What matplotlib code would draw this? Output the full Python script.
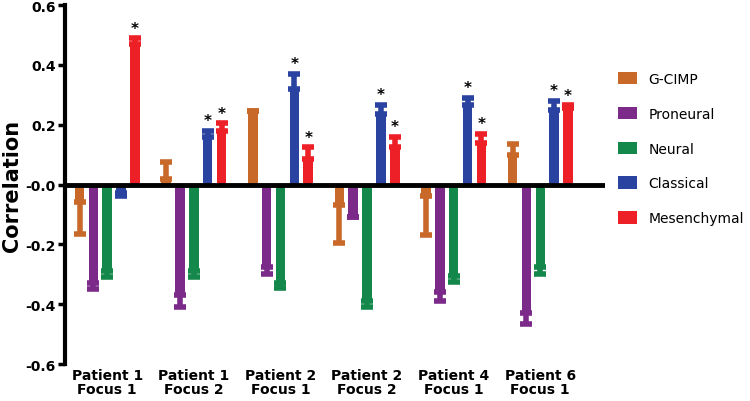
import numpy as np
import matplotlib.pyplot as plt

groups = ['Patient 1\nFocus 1', 'Patient 1\nFocus 2', 'Patient 2\nFocus 1',
          'Patient 2\nFocus 2', 'Patient 4\nFocus 1', 'Patient 6\nFocus 1']
subtypes = ['G-CIMP', 'Proneural', 'Neural', 'Classical', 'Mesenchymal']
colors = ['#c8692a', '#7b2a8a', '#14874a', '#2a43a0', '#ee2027']

# bar value per subtype (rows) and group (cols)
values = [
    [-0.06, 0.02, 0.245, -0.07, -0.04, 0.10],
    [-0.33, -0.37, -0.275, -0.11, -0.36, -0.43],
    [-0.29, -0.29, -0.33, -0.39, -0.305, -0.275],
    [-0.03, 0.16, 0.32, 0.235, 0.267, 0.25],
    [0.47, 0.18, 0.085, 0.125, 0.14, 0.255],
]
# one-sided error (outward from zero)
errors = [
    [0.105, 0.055, 0.0, 0.125, 0.13, 0.037],
    [0.02, 0.04, 0.025, 0.0, 0.03, 0.035],
    [0.02, 0.02, 0.015, 0.02, 0.02, 0.025],
    [0.01, 0.02, 0.05, 0.032, 0.023, 0.03],
    [0.02, 0.025, 0.04, 0.035, 0.03, 0.01],
]
stars = [
    [0, 0, 0, 0, 0, 0],
    [0, 0, 0, 0, 0, 0],
    [0, 0, 0, 0, 0, 0],
    [0, 1, 1, 1, 1, 1],
    [1, 1, 1, 1, 1, 1],
]

fig = plt.figure(figsize=(7.5, 4.02), dpi=100)
ax = fig.add_axes([0.087, 0.092, 0.72, 0.893])
x = np.arange(len(groups))
off = 0.16
w = 0.11
for i, name in enumerate(subtypes):
    v = np.array(values[i])
    e = np.array(errors[i])
    xs = x + (i - 2) * off
    ax.bar(xs, v, w, color=colors[i], label=name, zorder=2)
    lower = np.where(v < 0, e, 0)
    upper = np.where(v >= 0, e, 0)
    ax.errorbar(xs, v, yerr=[lower, upper], fmt='none', ecolor=colors[i],
                elinewidth=4, capsize=4.5, capthick=4, zorder=2)
    for j in range(len(groups)):
        if stars[i][j]:
            ax.text(xs[j], v[j] + e[j] + 0.008, '*', ha='center', va='bottom',
                    fontsize=11, fontweight='bold')

ax.axhline(0, color='black', lw=3.5, zorder=3)
ax.set_xlim(-0.485, 5.75)
ax.set_ylim(-0.6, 0.6)
ax.set_yticks(np.arange(-0.6, 0.61, 0.2))
ax.set_yticklabels(['-0.6', '-0.4', '-0.2', '-0.0', '0.2', '0.4', '0.6'],
                   fontweight='bold', fontsize=10)
ax.set_xticks(x)
ax.set_xticklabels(groups, fontweight='bold', fontsize=10, linespacing=1.0)
ax.tick_params(axis='x', length=0, pad=3)
ax.tick_params(axis='y', width=2.5, length=5, pad=2)
for s in ['top', 'right', 'bottom']:
    ax.spines[s].set_visible(False)
ax.spines['left'].set_linewidth(3)
ax.set_ylabel('Correlation', fontsize=15, fontweight='bold', labelpad=2)
ax.legend(loc='center left', bbox_to_anchor=(1.0, 0.6), frameon=False,
          fontsize=10, handlelength=1.4, handleheight=1.0, labelspacing=1.5)
fig.savefig('out.png')
